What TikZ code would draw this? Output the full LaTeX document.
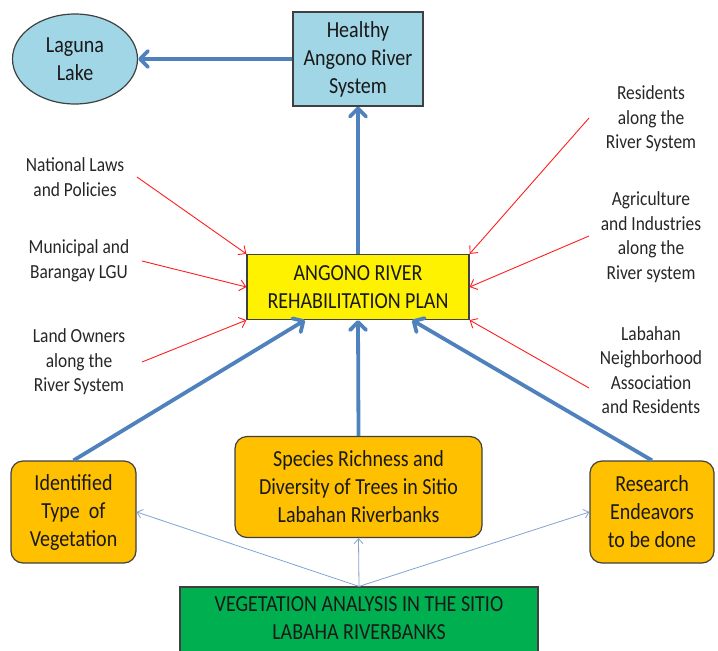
\documentclass[tikz,border=0pt]{standalone}
\usepackage{fontspec}
\setmainfont{Carlito}[FakeStretch=0.87]
\usetikzlibrary{arrows.meta,shapes.geometric}
\definecolor{riverblue}{RGB}{79,129,189}
\definecolor{thinblue}{RGB}{130,163,206}
\definecolor{water}{RGB}{160,214,230}
\definecolor{orangebox}{RGB}{255,192,0}
\definecolor{greenfill}{RGB}{0,176,80}
\definecolor{edgegray}{RGB}{64,64,64}
\definecolor{redline}{RGB}{255,30,30}
\tikzset{
  boxtext/.style={font=\fontsize{23}{28}\selectfont, align=center, text=black!90},
  sidetext/.style={font=\fontsize{20}{24.5}\selectfont, align=center, text=black!85},
  waterbox/.style={boxtext, draw=edgegray, fill=water, line width=1.2pt},
  planbox/.style={boxtext, draw=edgegray, fill=yellow, line width=1.2pt},
  orangebox/.style={boxtext, draw=edgegray, fill=orangebox, line width=1.2pt, rounded corners=12pt},
  greenbox/.style={draw=edgegray, fill=greenfill, line width=1.2pt},
  mainarrow/.style={draw=riverblue, line width=3.8pt, -{Straight Barb[length=8pt,width=16pt,line width=3.8pt,round]}},
  thinarrow/.style={draw=thinblue, line width=0.8pt, -{Straight Barb[length=5pt,width=9pt]}},
  redarrow/.style={draw=redline, line width=0.9pt, -{Straight Barb[length=6pt,width=11pt]}}
}
\begin{document}
\begin{tikzpicture}[x=1pt,y=-1pt]
\useasboundingbox (0,0) rectangle (718,651);

% top nodes
\node[ellipse, waterbox, minimum width=125, minimum height=90, inner sep=0pt] (lake) at (75,59) {Laguna\\Lake};
\node[rectangle, waterbox, minimum width=130, minimum height=94, inner sep=0pt] (healthy) at (358,59) {Healthy\\Angono River\\System};

% plan
\node[planbox, minimum width=222, minimum height=65, inner sep=0pt] (plan) at (358,287) {ANGONO RIVER\\REHABILITATION PLAN};

% orange boxes
\node[orangebox, minimum width=125, minimum height=102, inner sep=0pt] (veg) at (73.5,512) {Identified\\Type~~of\\Vegetation};
\node[orangebox, minimum width=247, minimum height=101, inner sep=0pt] (species) at (358.5,487) {Species Richness and\\Diversity of Trees in Sitio\\Labahan Riverbanks};
\node[orangebox, minimum width=124, minimum height=102, inner sep=0pt] (research) at (652,512) {Research\\Endeavors\\to be done};

% green box
\node[greenbox, minimum width=358, minimum height=78, inner sep=0pt] (analysis) at (359,626) {};
\node[boxtext] (analysistext) at (359,618) {VEGETATION ANALYSIS IN THE SITIO\\LABAHA RIVERBANKS};

% side labels
\node[sidetext] (laws) at (75,177) {National Laws\\and Policies};
\node[sidetext] (lgu) at (79,261) {Municipal and\\Barangay LGU};
\node[sidetext] (owners) at (79,362) {Land Owners\\along the\\River System};
\node[sidetext] (residents) at (651,119) {Residents\\along the\\River System};
\node[sidetext] (agri) at (651,237) {Agriculture\\and Industries\\along the\\River system};
\node[sidetext] (labahan) at (651,370) {Labahan\\Neighborhood\\Association\\and Residents};

% red arrow start points
\coordinate (l1) at (137,177);
\coordinate (l2) at (142,261);
\coordinate (l3) at (142,362);
\coordinate (r1) at (589,118);
\coordinate (r2) at (589,236);
\coordinate (r3) at (589,388);

% main blue arrows
\draw[mainarrow] (healthy.west) -- (lake.east);
\draw[mainarrow] (plan.north) -- (healthy.south);
\draw[mainarrow] (veg.north) -- ([xshift=-53pt]plan.south);
\draw[mainarrow] (species.north) -- (plan.south);
\draw[mainarrow] (research.north) -- ([xshift=54pt]plan.south);

% thin blue arrows
\draw[thinarrow] (analysis.north) -- (veg.east);
\draw[thinarrow] (analysis.north) -- (species.south);
\draw[thinarrow] (analysis.north) -- (research.west);

% red arrows
\draw[redarrow] (l1) -- (plan.north west);
\draw[redarrow] (l2) -- (plan.west);
\draw[redarrow] (l3) -- (plan.south west);
\draw[redarrow] (r1) -- (plan.north east);
\draw[redarrow] (r2) -- (plan.east);
\draw[redarrow] (r3) -- (plan.south east);
\end{tikzpicture}
\end{document}
